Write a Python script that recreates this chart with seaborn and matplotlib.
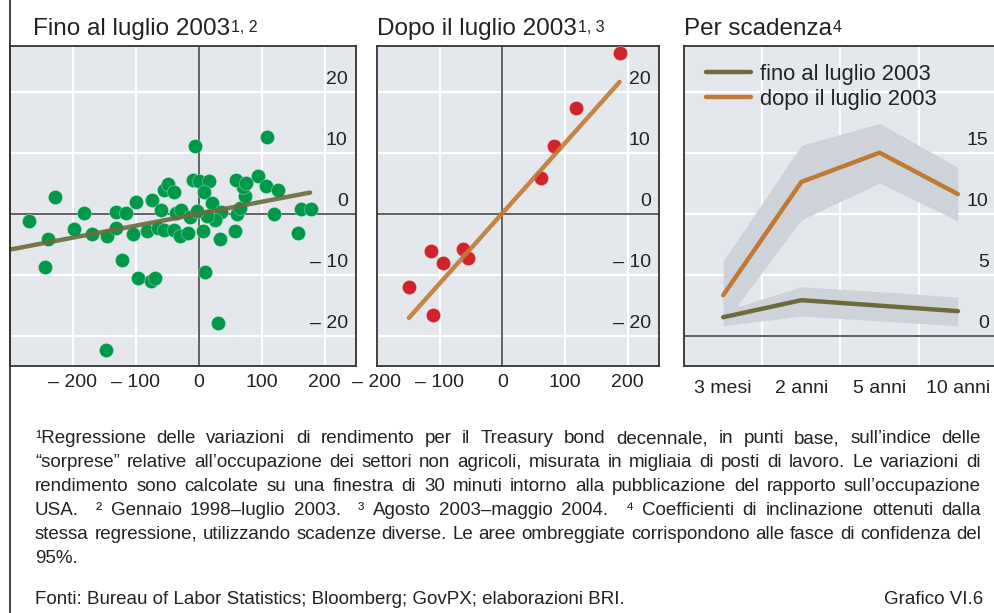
import numpy as np
import pandas as pd
import matplotlib.pyplot as plt
import seaborn as sns
from matplotlib.lines import Line2D

# --- dati ---
# fino al luglio 2003: sorpresa occupazione (migliaia) vs variazione rendimento (p.b.)
pre_x = [-269.6, -228.8, -239.3, -243.6, -182.6, -197.9, -169.9, -147.0, -146.5, -132.2,
         -131.7, -115.1, -121.5, -105.1, -99.8, -97.1, -76.4, -69.0, -82.8, -73.7,
         -59.4, -64.8, -54.6, -55.3, -48.9, -38.7, -39.8, -30.3, -16.4, -35.5,
         -27.5, -13.2, -6.4, -9.1, 0.5, 15.9, 8.0, 21.8, 36.1, 25.5,
         13.3, -2.7, 6.9, 33.4, 58.4, 61.0, 66.3, 73.2, 70.5, 60.0,
         75.9, 94.4, 107.2, 126.8, 119.9, 161.9, 178.3, 158.1, 9.5, 109.3, 30.7]
pre_y = [-1.2, 2.8, -4.1, -8.7, 0.1, -2.5, -3.4, -22.3, -3.75, 0.25,
         -2.3, 0.1, -7.6, -3.4, 1.9, -10.5, -11.0, -10.6, -2.9, 2.3,
         0.6, -2.3, -2.7, 3.9, 4.9, 3.6, -2.7, -3.75, -3.2, 0.1,
         0.6, -0.5, 11.1, 5.5, 5.4, 5.3, 3.5, 1.8, 0.2, -1.0,
         -0.4, 0.5, -2.9, -4.1, -2.9, 0.0, 0.9, 2.9, 4.4, 5.5,
         5.0, 6.2, 4.6, 3.9, 0.0, 0.7, 0.7, -3.2, -9.5, 12.5, -18.0]
pre_fit_x = [-300, 177]
pre_fit_y = [-5.9, 3.45]

# dopo il luglio 2003
post_x = [188.5, 117.8, 81.8, 61.1, -63.1, -54.1, -114.0, -94.0, -149.0, -109.9]
post_y = [26.4, 17.3, 11.1, 5.8, -5.8, -7.2, -6.2, -8.1, -12.1, -16.7]
post_fit_x = [-149, 187]
post_fit_y = [-17.1, 21.6]

# per scadenza: coefficienti e fasce di confidenza
maturities = ['3 mesi', '2 anni', '5 anni', '10 anni']
coef_pre = [1.5, 2.9, 2.45, 2.0]
coef_pre_lo = [0.8, 1.6, 1.2, 0.8]
coef_pre_hi = [2.0, 4.0, 3.6, 3.15]
coef_post = [3.3, 12.6, 15.0, 11.6]
coef_post_lo = [0.9, 9.5, 12.5, 9.4]
coef_post_hi = [6.1, 15.6, 17.4, 13.8]
series_names = ['fino al luglio 2003', 'dopo il luglio 2003']

scatter_yticks = [-20, -10, 0, 10, 20]
coef_yticks = [0, 5, 10, 15]

BG = '#E4E8EC'
BAND = '#CED3DA'
GREEN = '#00994A'
RED = '#D2232A'
OLIVE = '#6B6B3B'
ORANGE = '#C17A33'
DARK = '#333333'
ZERO = '#555555'

sns.set_style('white')
plt.rcParams['font.family'] = ['Liberation Sans', 'DejaVu Sans']
plt.rcParams['text.color'] = '#222222'
plt.rcParams['xtick.color'] = DARK
plt.rcParams['xtick.labelcolor'] = '#222222'


def lab(v):
    return f'\u2013 {abs(v):g}' if v < 0 else f'{v:g}'


W, H = 995, 613
fig = plt.figure(figsize=(W / 100, H / 100), dpi=100)


def px_axes(x0, x1, y0, y1):
    return fig.add_axes([x0 / W, 1 - y1 / H, (x1 - x0) / W, (y1 - y0) / H])


ax1 = px_axes(10, 356, 46, 366)
ax2 = px_axes(377, 659, 46, 366)
ax3 = px_axes(684, 997, 46, 366)


def base_style(ax):
    ax.set_facecolor(BG)
    ax.set_axisbelow(True)
    for s in ax.spines.values():
        s.set_color(DARK)
        s.set_linewidth(1.3)
    ax.set_xlabel('')
    ax.set_ylabel('')
    ax.tick_params(axis='x', which='both', direction='in', length=13, width=1.3,
                   pad=5.5, labelsize=14)
    ax.tick_params(axis='y', length=0, labelleft=False)


def y_labels(ax, values):
    for v in values:
        ax.annotate(lab(v), xy=(1, v), xycoords=('axes fraction', 'data'),
                    xytext=(-6, 2.5), textcoords='offset points',
                    ha='right', va='bottom', fontsize=14)


def scatter_panel(ax, xs, ys, color, fit_x, fit_y, fit_color, xlim, xmajor, xminor):
    sns.scatterplot(x=xs, y=ys, ax=ax, color=color, s=105, edgecolor=(1, 1, 1, 0.35),
                    linewidth=0.6, zorder=3, clip_on=False)
    sns.lineplot(x=fit_x, y=fit_y, ax=ax, color=fit_color, linewidth=3.2, zorder=4,
                 alpha=0.9)
    base_style(ax)
    ax.set_xlim(xlim)
    ax.set_ylim(-25, 27.5)
    ax.set_xticks(xmajor)
    ax.set_xticklabels([lab(v) for v in xmajor])
    ax.set_xticks(xminor, minor=True)
    ax.set_yticks(scatter_yticks)
    ax.grid(True, which='major', color='white', linewidth=1.6)
    ax.axhline(0, color=ZERO, linewidth=1.3, zorder=2)
    ax.axvline(0, color=ZERO, linewidth=1.3, zorder=2)
    y_labels(ax, scatter_yticks)


scatter_panel(ax1, pre_x, pre_y, GREEN, pre_fit_x, pre_fit_y, OLIVE,
              (-300, 250), [-200, -100, 0, 100, 200], [-250, -150, -50, 50, 150])
scatter_panel(ax2, post_x, post_y, RED, post_fit_x, post_fit_y, ORANGE,
              (-200, 250), [-200, -100, 0, 100, 200], [-150, -50, 50, 150])

# pannello per scadenza
coef = pd.DataFrame({
    'scadenza': maturities * 2,
    'coeff': coef_pre + coef_post,
    'periodo': [series_names[0]] * 4 + [series_names[1]] * 4,
})
ax3.fill_between(maturities, coef_post_lo, coef_post_hi, color=BAND, linewidth=0, zorder=1)
ax3.fill_between(maturities, coef_pre_lo, coef_pre_hi, color=BAND, linewidth=0, zorder=1)
sns.lineplot(data=coef, x='scadenza', y='coeff', hue='periodo', ax=ax3,
             palette=[OLIVE, ORANGE], linewidth=3.2, errorbar=None, zorder=3)
base_style(ax3)
ax3.set_xlim(-0.5, 3.5)
ax3.set_ylim(-2.5, 23.75)
ax3.set_xticks(range(len(maturities)))
ax3.set_xticklabels(maturities)
ax3.tick_params(axis='x', which='major', length=0, pad=10)
ax3.set_xticks([0.5, 1.5, 2.5], minor=True)
ax3.set_yticks([5, 10, 15, 20])
ax3.grid(True, which='minor', axis='x', color='white', linewidth=1.6)
ax3.grid(True, which='major', axis='y', color='white', linewidth=1.6)
ax3.axhline(0, color=ZERO, linewidth=1.3, zorder=2)
y_labels(ax3, coef_yticks)
handles, labels = ax3.get_legend_handles_labels()
ax3.legend(handles, labels, loc='upper left', bbox_to_anchor=(0.07, 0.945),
           frameon=False, fontsize=15.8, handlelength=2.05, handletextpad=0.4,
           labelspacing=0.2, borderpad=0, borderaxespad=0)

# titoli con esponenti
titles = [(33, 'Fino al luglio 2003', '1, 2'),
          (377, 'Dopo il luglio 2003', '1, 3'),
          (684, 'Per scadenza', '4')]
for x, text, sup in titles:
    t = fig.text(x / W, 1 - 35 / H, text, fontsize=17.5, va='baseline')
    ax1.annotate(sup, xy=(1, 1), xycoords=t, xytext=(0.5, -1.5),
                 textcoords='offset points', ha='left', va='top', fontsize=11.5)

# cornice a sinistra
fig.add_artist(Line2D([10 / W, 10 / W], [0, 1], transform=fig.transFigure,
                      color=DARK, linewidth=1.3))

# note
notes = [
    '\u00b9Regressione delle variazioni di rendimento per il Treasury bond decennale, in punti base, sull\u2019indice delle',
    '\u201csorprese\u201d relative all\u2019occupazione dei settori non agricoli, misurata in migliaia di posti di lavoro. Le variazioni di',
    'rendimento sono calcolate su una finestra di 30 minuti intorno alla pubblicazione del rapporto sull\u2019occupazione',
    'USA.  \u00b2 Gennaio 1998\u2013luglio 2003.  \u00b3 Agosto 2003\u2013maggio 2004.  \u2074 Coefficienti di inclinazione ottenuti dalla',
    'stessa regressione, utilizzando scadenze diverse. Le aree ombreggiate corrispondono alle fasce di confidenza del',
]
fig.canvas.draw()
renderer = fig.canvas.get_renderer()
note_size = 13.5
for i, line in enumerate(notes):
    y = 1 - (443 + 24 * i) / H
    words = line.split(' ')
    texts = [fig.text(0, y, w, fontsize=note_size, va='baseline') for w in words]
    widths = [t.get_window_extent(renderer).width if w else 0 for t, w in zip(texts, words)]
    gap = (981 - 35 - sum(widths)) / (len(words) - 1)
    xpos = 35
    for t, w in zip(texts, widths):
        t.set_x(xpos / W)
        xpos += w + gap
fig.text(35 / W, 1 - 563 / H, '95%.', fontsize=note_size, va='baseline')
fig.text(35 / W, 1 - 604 / H, 'Fonti: Bureau of Labor Statistics; Bloomberg; GovPX; elaborazioni BRI.',
         fontsize=note_size, va='baseline')
fig.text(983 / W, 1 - 604 / H, 'Grafico VI.6', fontsize=note_size, va='baseline', ha='right')

fig.savefig('out.png', dpi=100, facecolor='white')
